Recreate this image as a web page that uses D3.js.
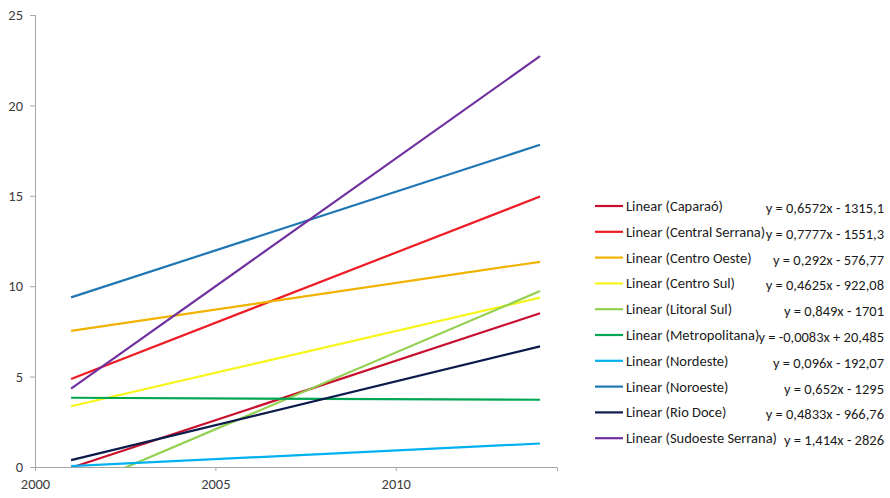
<!DOCTYPE html>
<html>
<head>
<meta charset="utf-8">
<script src="https://cdn.jsdelivr.net/npm/d3@7/dist/d3.min.js"></script>
<style>
  html, body { margin: 0; padding: 0; background: #ffffff; }
  svg { display: block; }
  text { font-family: Carlito, Lato, "Open Sans", sans-serif; }
</style>
</head>
<body>
<svg id="chart" width="890" height="498"></svg>
<script>
// Linear trend lines per region, evaluated at the first and last year
const years = [2001, 2014];
const regions = [
  "Caparaó", "Central Serrana", "Centro Oeste", "Centro Sul", "Litoral Sul",
  "Metropolitana", "Nordeste", "Noroeste", "Rio Doce", "Sudoeste Serrana"
];
const startValues = [-0.04, 4.87, 7.53, 3.36, -1.31, 3.83, 0.05, 9.38, 0.38, 4.33];
const endValues   = [8.50, 14.96, 11.35, 9.37, 9.73, 3.72, 1.30, 17.82, 6.67, 22.72];
const equations = [
  "y = 0,6572x - 1315,1",
  "y = 0,7777x - 1551,3",
  "y = 0,292x - 576,77",
  "y = 0,4625x - 922,08",
  "y = 0,849x - 1701",
  "y = -0,0083x + 20,485",
  "y = 0,096x - 192,07",
  "y = 0,652x - 1295",
  "y = 0,4833x - 966,76",
  "y = 1,414x - 2826"
];
const colors = [
  "#c8102e", "#ee1c25", "#f2b300", "#f5f51a", "#92d050",
  "#00a651", "#00b0f0", "#1f77b4", "#0d1b4c", "#7030a0"
];
const xTicks = [2000, 2005, 2010];
const yTicks = [0, 5, 10, 15, 20, 25];

const svg = d3.select("#chart");

const x = d3.scaleLinear().domain([2000, 2014.47]).range([35, 557]);
const y = d3.scaleLinear().domain([0, 25]).range([467, 15]);

// axes
const axisColor = "#a6a6a6";
const labelColor = "#404040";
const fontSize = "14.5px";

const yAxis = svg.append("g")
  .attr("transform", `translate(${x(2000)},0)`)
  .call(d3.axisLeft(y).tickValues(yTicks).tickSize(5).tickPadding(7).tickFormat(d3.format("d")));
const xAxis = svg.append("g")
  .attr("transform", `translate(0,${y(0)})`)
  .call(d3.axisBottom(x).tickValues(xTicks).tickSize(4).tickPadding(8).tickFormat(d3.format("d")));

[yAxis, xAxis].forEach(g => {
  g.select(".domain").attr("stroke", axisColor).attr("stroke-width", 1);
  g.selectAll(".tick line").attr("stroke", axisColor);
  g.selectAll(".tick text")
    .attr("fill", labelColor)
    .style("font-size", fontSize)
    .style("font-family", "Carlito, Lato, 'Open Sans', sans-serif");
});

// plot clip so trends below zero are cut at the axis
svg.append("clipPath").attr("id", "plotClip")
  .append("rect")
  .attr("x", x(2000)).attr("y", y(25))
  .attr("width", x(2014.47) - x(2000)).attr("height", y(0) - y(25));

const series = regions.map((name, i) => ({
  name,
  color: colors[i],
  points: [[years[0], startValues[i]], [years[1], endValues[i]]]
}));

const line = d3.line().x(d => x(d[0])).y(d => y(d[1]));

svg.append("g").attr("clip-path", "url(#plotClip)")
  .selectAll("path")
  .data(series)
  .join("path")
  .attr("d", d => line(d.points))
  .attr("fill", "none")
  .attr("stroke", d => d.color)
  .attr("stroke-width", 2.2)
  .attr("stroke-linecap", "butt");

// legend with trend equations
const legendTop = 206;
const rowGap = 25.8;
const legend = svg.append("g");
const rows = legend.selectAll("g")
  .data(series)
  .join("g")
  .attr("transform", (d, i) => `translate(0,${legendTop + i * rowGap})`);

rows.append("line")
  .attr("x1", 595).attr("x2", 623)
  .attr("y1", 0).attr("y2", 0)
  .attr("stroke", d => d.color)
  .attr("stroke-width", 2.2);

rows.append("text")
  .attr("x", 626).attr("y", 0)
  .attr("dy", "0.35em")
  .attr("fill", "#1a1a1a")
  .style("font-size", fontSize)
  .text(d => `Linear (${d.name})`);

rows.append("text")
  .attr("x", 884).attr("y", 2)
  .attr("dy", "0.35em")
  .attr("text-anchor", "end")
  .attr("fill", "#1a1a1a")
  .style("font-size", fontSize)
  .text((d, i) => equations[i]);
</script>
</body>
</html>
